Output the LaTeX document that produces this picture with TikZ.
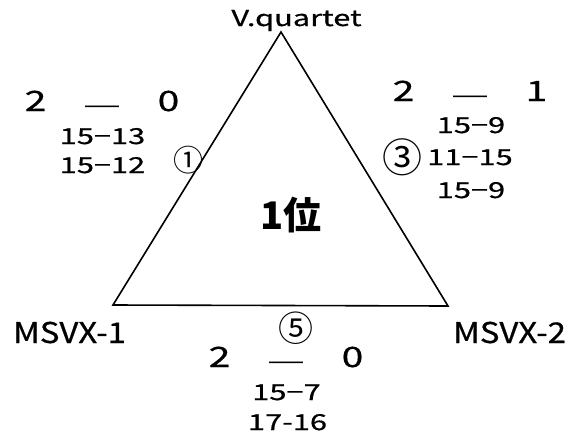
\documentclass[tikz,border=0pt]{standalone}
\usepackage{fontspec}
\setmainfont{Noto Sans CJK JP}
\newfontfamily\teamfont{Noto Sans CJK JP}[FakeStretch=1.15,FakeBold=0.7]
\newfontfamily\numfont{Noto Sans CJK JP}[FakeStretch=1.4,FakeBold=0.7]

\begin{document}
\begin{tikzpicture}[x=1pt,y=-1pt,
    team/.style={anchor=base,font=\teamfont\fontsize{28.6}{30}\selectfont},
    games/.style={anchor=base,font=\numfont\fontsize{28}{30}\selectfont},
    points/.style={anchor=base,font=\numfont\fontsize{22}{24}\selectfont},
    order/.style={inner sep=0pt}]
  \useasboundingbox (0,0) rectangle (572,434);
  \coordinate (V) at (281,32);
  \coordinate (M1) at (113,305);
  \coordinate (M2) at (448,306);
  \draw[line width=1.6pt,line join=miter] (V) -- (M1) -- (M2) -- cycle;
  \node[team,font=\numfont\fontsize{22}{24}\selectfont] (vq) at (296.5,26) {V.quartet};
  \node[team] (ms1) at (69.5,343) {MSVX-1};
  \node[team] (ms2) at (509.5,343) {MSVX-2};
  \node[font=\bfseries\fontsize{38}{40}\selectfont] (rank) at (291,215) {1位};

  \node[games] (g1) at (102,111) {2\hspace{36pt}\raisebox{-6pt}{―}\hspace{36pt}0};
  \node[points] (p1a) at (102.5,144) {15−13};
  \node[points] (p1b) at (102.5,173) {15−12};
  \node[order,font=\fontsize{30}{30}\selectfont] (m1) at (188,160) {①};

  \node[games] (g3) at (470,101) {2\hspace{36pt}\raisebox{-6pt}{―}\hspace{36pt}1};
  \node[points] (p3a) at (471,133) {15−9};
  \node[points] (p3b) at (470,165) {11−15};
  \node[points] (p3c) at (471,198) {15−9};
  \node[order,font=\fontsize{40}{40}\selectfont] (m3) at (402,157) {③};

  \node[order,font=\fontsize{35}{35}\selectfont] (m5) at (296,328) {⑤};
  \node[games] (g5) at (286,367) {2\hspace{36pt}\raisebox{-6pt}{―}\hspace{36pt}0};
  \node[points] (p5a) at (286.5,400) {15−7};
  \node[points] (p5b) at (287.5,430) {17-16};
\end{tikzpicture}
\end{document}
